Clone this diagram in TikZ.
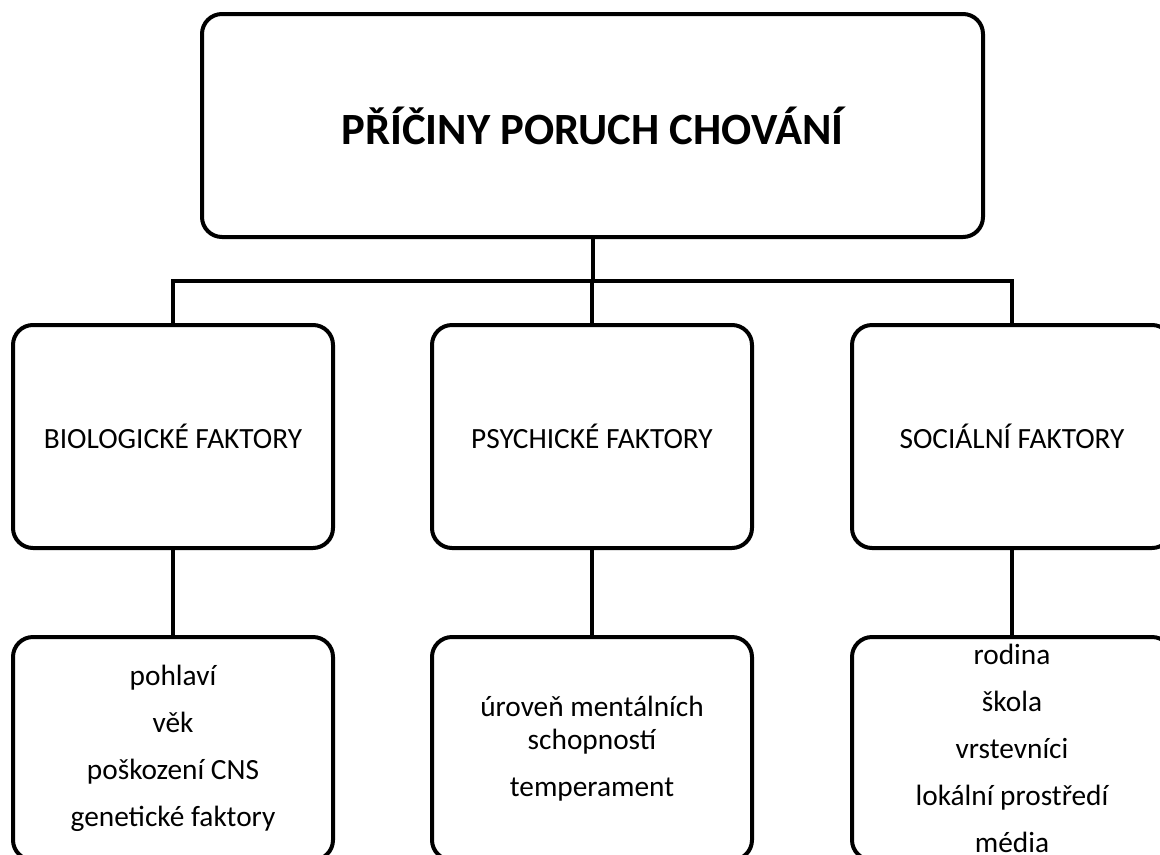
\documentclass[tikz,border=0pt]{standalone}
\usepackage{fontspec}
\setmainfont{Carlito}
\tikzset{
  box/.style={draw=black, line width=3pt, rounded corners=15pt, fill=white,
    minimum width=240pt, minimum height=167.25pt, inner sep=0pt, align=center},
  toptitle/.style={box, minimum width=585.75pt, font=\fontsize{33.5}{40}\selectfont\bfseries},
  midlabel/.style={box, font=\fontsize{22}{26}\selectfont},
  itembox/.style={box, font=\fontsize{22}{24.75}\selectfont},
  link/.style={draw=black, line width=3pt}
}
\begin{document}
\begin{tikzpicture}[x=0.75pt,y=-0.75pt]
\useasboundingbox (0,0) rectangle (1160,854);
\clip (0,0) rectangle (1160,854);
\fill[white] (0,0) rectangle (1160,854);
\node[toptitle] (top) at (592.5,125.5) {PŘÍČINY PORUCH CHOVÁNÍ};
\coordinate (bus) at (0,281);
\node[midlabel] (bio) at (173,436.5) {BIOLOGICKÉ FAKTORY};
\node[midlabel] (psy) at (592,436.5) {PSYCHICKÉ FAKTORY};
\node[midlabel] (soc) at (1012,436.5) {SOCIÁLNÍ FAKTORY};
\node[itembox] (bioi) at (173,748.5) {pohlaví\\[10.5pt] věk\\[10.5pt] poškození CNS\\[10.5pt] genetické faktory};
\node[itembox] (psyi) at (592,748.5) {úroveň mentálních\\ schopností\\[10.5pt] temperament};
\node[itembox] (soci) at (1012,748.5) {rodina\\[10.5pt] škola\\[10.5pt] vrstevníci\\[10.5pt] lokální prostředí\\[10.5pt] média};
\draw[link] (top.south) -- (top.south |- bus);
\draw[link] (bio.north) -- (bio.north |- bus) -- (soc.north |- bus) -- (soc.north);
\draw[link] (psy.north) -- (psy.north |- bus);
\draw[link] (bio.south) -- (bioi.north);
\draw[link] (psy.south) -- (psyi.north);
\draw[link] (soc.south) -- (soci.north);
\end{tikzpicture}
\end{document}
